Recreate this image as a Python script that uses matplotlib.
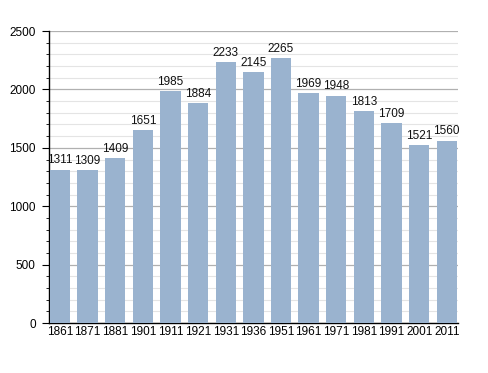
"""Population bar chart."""
import matplotlib
matplotlib.use('Agg')
import matplotlib.pyplot as plt
from matplotlib.ticker import MultipleLocator

years = ['1861', '1871', '1881', '1901', '1911', '1921', '1931', '1936',
         '1951', '1961', '1971', '1981', '1991', '2001', '2011']
population = [1311, 1309, 1409, 1651, 1985, 1884, 2233, 2145,
              2265, 1969, 1948, 1813, 1709, 1521, 1560]

plt.rcParams['font.family'] = ['Liberation Sans Narrow', 'Liberation Sans',
                               'DejaVu Sans']

fig = plt.figure(figsize=(4.88, 3.73), dpi=100)
ax = fig.add_axes([0.1002, 0.134, 0.838, 0.7828])

x = range(len(years))
bars = ax.bar(x, population, width=0.74, color='#9ab3cf', zorder=3)

for bar_, value in zip(bars, population):
    ax.annotate(f'{value}',
                xy=(bar_.get_x() + bar_.get_width() / 2, bar_.get_height()),
                xytext=(0, 2.5), textcoords='offset points',
                ha='center', va='bottom', fontsize=8.5, color='#111111')

ax.set_xlim(-0.4, len(years) - 0.6)
ax.set_ylim(0, 2500)
ax.set_xticks(list(x))
ax.set_xticklabels(years, fontsize=8.5)
ax.yaxis.set_major_locator(MultipleLocator(500))
ax.yaxis.set_minor_locator(MultipleLocator(100))
ax.tick_params(axis='y', which='major', labelsize=8.5, length=5, pad=4.5)
ax.tick_params(axis='y', which='minor', length=2)
ax.tick_params(axis='x', length=0, pad=2)

ax.grid(axis='y', which='major', color='#b0b0b0', linewidth=0.9, zorder=0)
ax.grid(axis='y', which='minor', color='#e4e4e4', linewidth=0.8, zorder=0)

for side in ['top', 'right']:
    ax.spines[side].set_visible(False)
ax.spines['left'].set_linewidth(1.0)
ax.spines['bottom'].set_linewidth(1.0)

fig.savefig('out.png', dpi=100)
